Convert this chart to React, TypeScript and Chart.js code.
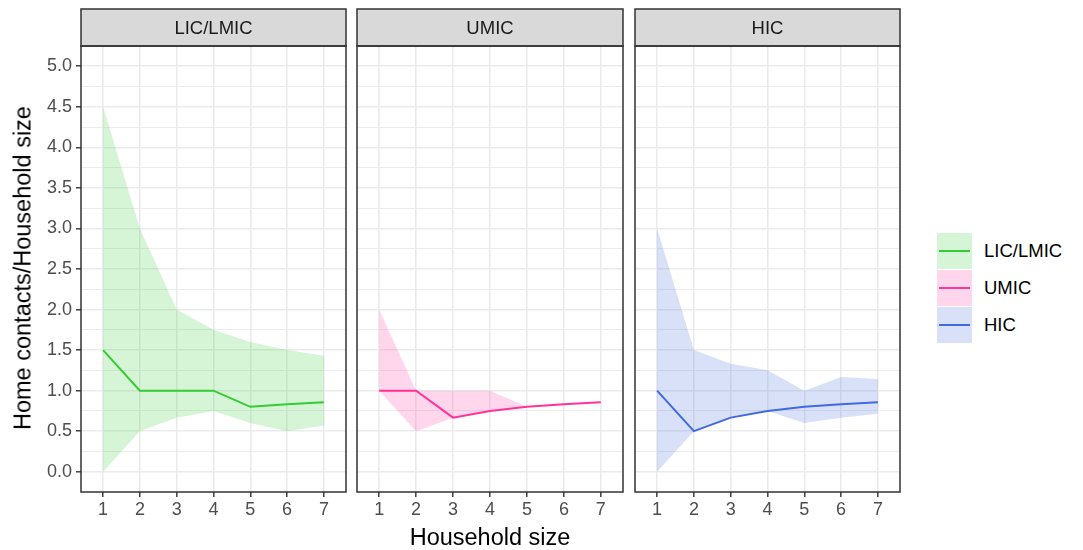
import React, { useEffect, useRef } from "react";
import { Chart, registerables } from "chart.js";

Chart.register(...registerables);

// ---- data ----
const householdSize = [1, 2, 3, 4, 5, 6, 7];
const panelNames = ["LIC/LMIC", "UMIC", "HIC"];

const licMean = [1.5, 1.0, 1.0, 1.0, 0.8, 0.833, 0.857];
const licUpper = [4.5, 3.0, 2.0, 1.75, 1.6, 1.5, 1.43];
const licLower = [0.0, 0.5, 0.667, 0.75, 0.6, 0.5, 0.571];

const umicMean = [1.0, 1.0, 0.667, 0.75, 0.8, 0.833, 0.857];
const umicUpper = [2.0, 1.0, 1.0, 1.0, 0.8, 0.833, 0.857];
const umicLower = [1.0, 0.5, 0.667, 0.75, 0.8, 0.833, 0.857];

const hicMean = [1.0, 0.5, 0.667, 0.75, 0.8, 0.833, 0.857];
const hicUpper = [3.0, 1.5, 1.333, 1.25, 1.0, 1.167, 1.143];
const hicLower = [0.0, 0.5, 0.667, 0.75, 0.6, 0.667, 0.714];

const yMajorTicks = [0, 0.5, 1.0, 1.5, 2.0, 2.5, 3.0, 3.5, 4.0, 4.5, 5.0];
const yMinorTicks = [0.25, 0.75, 1.25, 1.75, 2.25, 2.75, 3.25, 3.75, 4.25, 4.75];
const xTicks = [1, 2, 3, 4, 5, 6, 7];

const lineColors = ["#32CD32", "#FF3399", "#4169E1"];
const fillColors = ["rgba(50,205,50,0.2)", "rgba(255,51,153,0.2)", "rgba(65,105,225,0.2)"];

const FONT = "'Liberation Sans', Arial, Helvetica, sans-serif";
const TICK_SIZE = 18;
const STRIP_SIZE = 18.5;
const TITLE_SIZE = 23.5;

const pts = (ys: number[]) => householdSize.map((x, i) => ({ x, y: ys[i] }));

const facetPlugin = {
  id: "facet",
  afterDraw(chart: any) {
    const { ctx, chartArea } = chart;
    const { left, top, right, bottom } = chartArea;
    const label = chart.options.plugins.facet.label;
    ctx.save();
    ctx.fillStyle = "#D9D9D9";
    ctx.fillRect(left, 9, right - left, top - 9);
    ctx.strokeStyle = "#333333";
    ctx.lineWidth = 1.5;
    ctx.strokeRect(left, 9, right - left, top - 9);
    ctx.strokeRect(left, top, right - left, bottom - top);
    ctx.fillStyle = "#1A1A1A";
    ctx.font = `${STRIP_SIZE}px ${FONT}`;
    ctx.textAlign = "center";
    ctx.textBaseline = "middle";
    ctx.fillText(label, (left + right) / 2, (9 + top) / 2 + 1);
    ctx.restore();
  },
};

const isMajor = (v: number) => Math.abs(v * 2 - Math.round(v * 2)) < 1e-6;

function Panel(props: {
  idx: number;
  left: number;
  width: number;
  padLeft: number;
  padRight: number;
  yAxisWidth: number;
  showY: boolean;
  mean: number[];
  upper: number[];
  lower: number[];
}) {
  const ref = useRef<HTMLCanvasElement>(null);
  useEffect(() => {
    const { idx, mean, upper, lower, showY, yAxisWidth, padLeft, padRight } = props;
    const chart = new Chart(ref.current as HTMLCanvasElement, {
      type: "line",
      data: {
        datasets: [
          {
            data: pts(upper),
            borderWidth: 0,
            pointRadius: 0,
            backgroundColor: fillColors[idx],
            borderColor: "rgba(0,0,0,0)",
            fill: "+1",
            order: 2,
          },
          {
            data: pts(lower),
            borderWidth: 0,
            pointRadius: 0,
            borderColor: "rgba(0,0,0,0)",
            fill: false,
            order: 2,
          },
          {
            data: pts(mean),
            borderWidth: 2,
            pointRadius: 0,
            borderColor: lineColors[idx],
            fill: false,
            order: 1,
          },
        ],
      },
      options: {
        responsive: false,
        animation: false,
        layout: { padding: { top: 46, left: padLeft, right: padRight, bottom: 0 } },
        plugins: {
          legend: { display: false },
          tooltip: { enabled: false },
          facet: { label: panelNames[idx] },
        } as any,
        scales: {
          x: {
            type: "linear",
            min: 0.4,
            max: 7.6,
            afterBuildTicks: (axis: any) => {
              axis.ticks = xTicks.map((v) => ({ value: v }));
            },
            afterFit: (axis: any) => {
              axis.height = 58;
            },
            border: { display: false },
            grid: {
              color: "#EBEBEB",
              lineWidth: 1.6,
              tickColor: "#333333",
              tickLength: 5,
              tickWidth: 1.4,
            },
            ticks: {
              autoSkip: false,
              maxRotation: 0,
              padding: 2,
              color: "#4D4D4D",
              font: { family: FONT, size: TICK_SIZE },
              callback: (v: any) => String(v),
            },
          },
          y: {
            type: "linear",
            min: -0.25,
            max: 5.25,
            afterBuildTicks: (axis: any) => {
              axis.ticks = [...yMajorTicks, ...yMinorTicks]
                .sort((a, b) => a - b)
                .map((v) => ({ value: v }));
            },
            afterFit: (axis: any) => {
              axis.width = yAxisWidth;
            },
            border: { display: false },
            grid: {
              color: "#EBEBEB",
              lineWidth: (c: any) => (isMajor(c.tick.value) ? 1.6 : 0.9),
              drawTicks: showY,
              tickColor: (c: any) => (isMajor(c.tick.value) ? "#333333" : "rgba(0,0,0,0)"),
              tickLength: 5,
              tickWidth: 1.4,
            },
            ticks: {
              display: showY,
              autoSkip: false,
              padding: 4,
              color: "#4D4D4D",
              font: { family: FONT, size: TICK_SIZE },
              callback: (v: any) => (isMajor(v) ? Number(v).toFixed(1) : ""),
            },
          },
        },
      },
      plugins: [facetPlugin],
    } as any);
    return () => chart.destroy();
  }, []);
  return (
    <canvas
      ref={ref}
      width={props.width}
      height={550}
      style={{ position: "absolute", left: props.left, top: 0, width: props.width, height: 550 }}
    />
  );
}

const legendNames = ["LIC/LMIC", "UMIC", "HIC"];

export default function App() {
  return (
    <div
      style={{
        position: "absolute",
        left: 0,
        top: 0,
        width: 1083,
        height: 550,
        background: "#FFFFFF",
        fontFamily: FONT,
      }}
    >
      <Panel idx={0} left={0} width={352} padLeft={0} padRight={6} yAxisWidth={81} showY={true}
        mean={licMean} upper={licUpper} lower={licLower} />
      <Panel idx={1} left={352} width={276} padLeft={5} padRight={5} yAxisWidth={0} showY={false}
        mean={umicMean} upper={umicUpper} lower={umicLower} />
      <Panel idx={2} left={630} width={275} padLeft={5} padRight={5} yAxisWidth={0} showY={false}
        mean={hicMean} upper={hicUpper} lower={hicLower} />
      <div
        style={{
          position: "absolute",
          left: 23,
          top: 268,
          transform: "translate(-50%, -50%) rotate(-90deg)",
          whiteSpace: "nowrap",
          fontSize: TITLE_SIZE,
          color: "#000000",
        }}
      >
        Home contacts/Household size
      </div>
      <div
        style={{
          position: "absolute",
          left: 490,
          top: 537,
          transform: "translate(-50%, -50%)",
          whiteSpace: "nowrap",
          fontSize: TITLE_SIZE,
          color: "#000000",
        }}
      >
        Household size
      </div>
      {legendNames.map((n, i) => (
        <div key={n} style={{ position: "absolute", left: 937, top: 233 + i * 37, height: 36, display: "flex", alignItems: "center" }}>
          <div style={{ width: 35, height: 36, background: fillColors[i], position: "relative" }}>
            <div style={{ position: "absolute", left: 2, right: 2, top: 17, height: 2, background: lineColors[i] }} />
          </div>
          <div style={{ marginLeft: 12, fontSize: STRIP_SIZE, color: "#000000" }}>{n}</div>
        </div>
      ))}
    </div>
  );
}
